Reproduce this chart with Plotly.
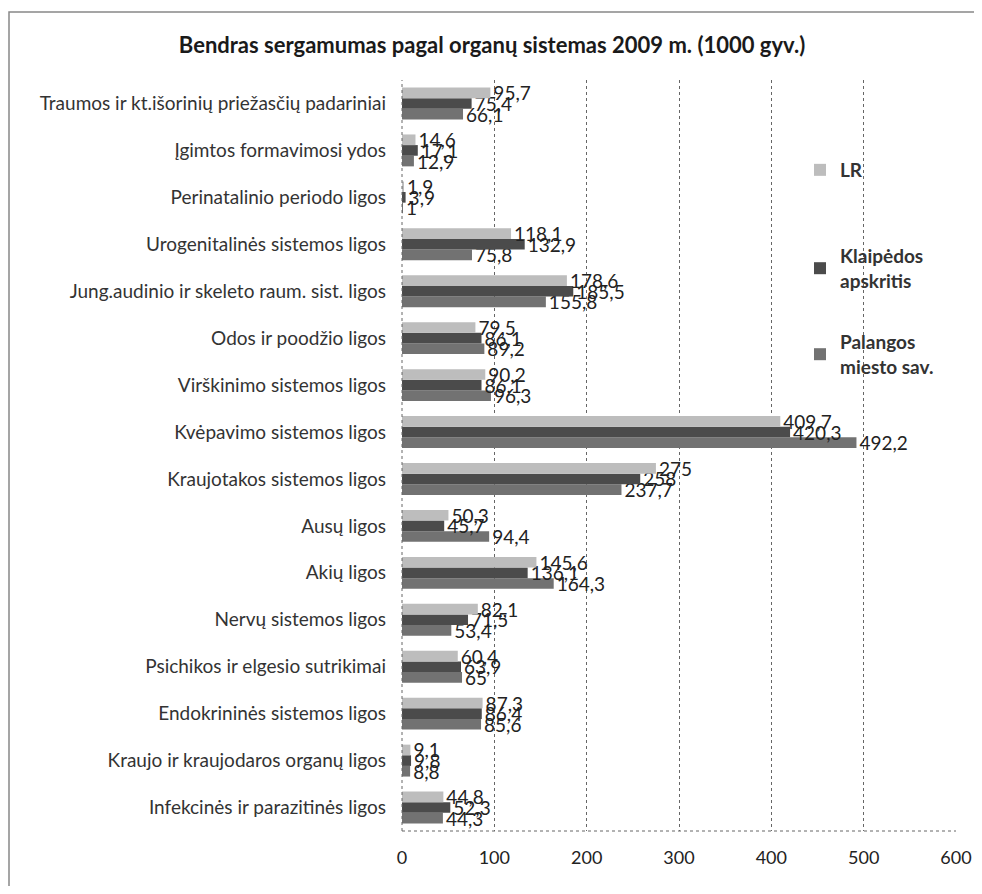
import plotly.graph_objects as go

categories = [
    "Infekcinės ir parazitinės ligos",
    "Kraujo ir kraujodaros organų ligos",
    "Endokrininės sistemos ligos",
    "Psichikos ir elgesio sutrikimai",
    "Nervų sistemos ligos",
    "Akių ligos",
    "Ausų ligos",
    "Kraujotakos sistemos ligos",
    "Kvėpavimo sistemos ligos",
    "Virškinimo sistemos ligos",
    "Odos ir poodžio ligos",
    "Jung.audinio ir skeleto raum. sist. ligos",
    "Urogenitalinės sistemos ligos",
    "Perinatalinio periodo ligos",
    "Įgimtos formavimosi ydos",
    "Traumos ir kt.išorinių priežasčių padariniai",
]
lr = [44.8, 9.1, 87.3, 60.4, 82.1, 145.6, 50.3, 275, 409.7, 90.2, 79.5, 178.6, 118.1, 1.9, 14.6, 95.7]
klaipeda = [52.3, 9.8, 86.4, 63.9, 71.5, 136.1, 45.7, 258, 420.3, 86.1, 86.1, 185.5, 132.9, 3.9, 17.1, 75.4]
palanga = [44.3, 8.8, 85.6, 65, 53.4, 164.3, 94.4, 237.7, 492.2, 96.3, 89.2, 155.8, 75.8, 1, 12.9, 66.1]
x_ticks = [0, 100, 200, 300, 400, 500, 600]


def fmt(v):
    return ("%g" % v).replace(".", ",")


FONT = "Lato"
W, H = 966, 878
ml, mr, mt, mb = 394, 18, 72, 55
pw, ph = W - ml - mr, H - mt - mb


def px(xf):
    return (xf - ml) / pw


def py(yf):
    return 1 - (yf - mt) / ph


series = [
    ("Palangos<br>miesto sav.", palanga, "#727272", "legend3"),
    ("Klaipėdos<br>apskritis", klaipeda, "#4b4b4b", "legend2"),
    ("LR", lr, "#bdbdbd", "legend"),
]

fig = go.Figure()
for name, vals, col, lg in series:
    fig.add_trace(go.Bar(
        y=categories, x=vals, name="<b>" + name + "</b>", orientation="h",
        marker=dict(color=col, line=dict(width=0)),
        text=[fmt(v) for v in vals], textposition="outside",
        constraintext="none",
        textfont=dict(size=19, color="#222222", family=FONT),
        cliponaxis=False, legend=lg,
    ))

leg_common = dict(xanchor="left", yanchor="top", bgcolor="rgba(0,0,0,0)",
                  font=dict(size=19, color="#333333", family=FONT), itemwidth=30)
legx = px(792)

fig.update_layout(
    width=W, height=H,
    margin=dict(l=ml, r=mr, t=mt, b=mb, autoexpand=False),
    paper_bgcolor="white", plot_bgcolor="white",
    barmode="group", bargap=0.32, bargroupgap=0,
    font=dict(family=FONT, size=19, color="#333333"),
    title=dict(text="<b>Bendras sergamumas pagal organų sistemas 2009 m. (1000 gyv.)</b>",
               x=484 / W, xanchor="center", y=1 - 37 / H, yanchor="middle",
               font=dict(size=22, color="#1a1a1a", family=FONT)),
    xaxis=dict(range=[0, 600], tickvals=x_ticks, ticktext=[str(t) for t in x_ticks],
               showgrid=True, gridcolor="#666666", griddash="dot", gridwidth=1,
               zeroline=False, showline=False, ticks="",
               tickfont=dict(size=18, color="#222222", family=FONT), ticklabelstandoff=14),
    yaxis=dict(showline=False, ticks="",
               tickfont=dict(size=19, color="#333333", family=FONT), ticklabelstandoff=15),
    legend=dict(x=legx, y=py(143), **leg_common),
    legend2=dict(x=legx, y=py(229), **leg_common),
    legend3=dict(x=legx, y=py(315), **leg_common),
    showlegend=True,
)

# outer chart frame (left and top visible) and dotted plot-area borders
fig.add_shape(type="rect", xref="paper", yref="paper",
              x0=px(1), x1=px(W + 20), y0=py(H + 20), y1=py(4),
              line=dict(color="#888888", width=1.5), fillcolor="rgba(0,0,0,0)")
fig.add_shape(type="line", xref="paper", yref="paper", x0=0, x1=1, y0=0, y1=0,
              line=dict(color="#666666", width=1, dash="dot"))
fig.add_shape(type="line", xref="paper", yref="paper", x0=0, x1=0, y0=0, y1=1,
              line=dict(color="#666666", width=1, dash="dot"))

fig.write_html("out.html")
